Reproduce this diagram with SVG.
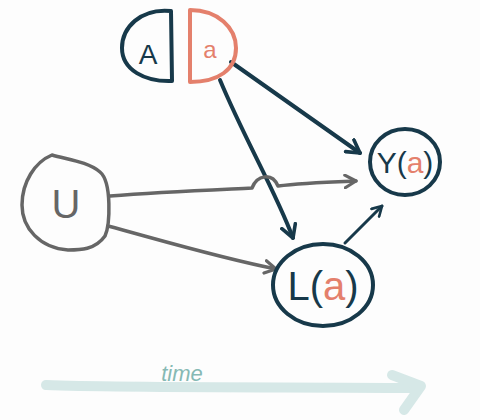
<svg xmlns="http://www.w3.org/2000/svg" width="480" height="420" viewBox="0 0 480 420">
<defs>
<style>
.dk{fill:none;stroke:#17394a;stroke-width:4;stroke-linecap:round;stroke-linejoin:round}
.dkt{fill:none;stroke:#17394a;stroke-width:3;stroke-linecap:round;stroke-linejoin:round}
.gy{fill:none;stroke:#666666;stroke-width:3.5;stroke-linecap:round;stroke-linejoin:round}
.sa{fill:none;stroke:#e4806c;stroke-width:4;stroke-linecap:round;stroke-linejoin:round}
.t{font-family:"Liberation Sans",sans-serif;text-anchor:middle}
.tk{fill:#17394a}
.ts{fill:#e4806c}
</style>
<marker id="ad" viewBox="0 0 10 10" refX="8" refY="5" markerWidth="4.5" markerHeight="4.5" orient="auto" markerUnits="strokeWidth">
<path d="M1,1 L8,5 L1,9" fill="none" stroke="#17394a" stroke-width="2" stroke-linecap="round" stroke-linejoin="round"/>
</marker>
<marker id="ag" viewBox="0 0 10 10" refX="8" refY="5" markerWidth="4.5" markerHeight="4.5" orient="auto" markerUnits="strokeWidth">
<path d="M1,1 L8,5 L1,9" fill="none" stroke="#666666" stroke-width="2" stroke-linecap="round" stroke-linejoin="round"/>
</marker>
</defs>
<rect width="480" height="420" fill="#fdfdfd"/>
<g id="time">
<path d="M46,385 C120,388 300,387 412,388" fill="none" stroke="#d6e8e7" stroke-width="10" stroke-linecap="round"/>
<path d="M392,375 L421,386 L404,410" fill="none" stroke="#d6e8e7" stroke-width="10" stroke-linecap="round" stroke-linejoin="round"/>
<text x="182" y="381" class="t" font-size="22" fill="#86b9b4" font-style="italic">time</text>
</g>
<g id="connectors">
<path class="dk" d="M231,62 L360,153" marker-end="url(#ad)"/>
<path class="dk" d="M220,80 C245,140 275,190 293,238" marker-end="url(#ad)"/>
<path class="dkt" d="M345,243 L382,206" marker-end="url(#ad)"/>
<path class="gy" d="M110,196 C160,192 210,190 252,188 C257,175 272,172 278,186 C300,183 330,182 356,181" marker-end="url(#ag)"/>
<path class="gy" d="M108,226 C160,240 220,258 276,269" marker-end="url(#ag)"/>
</g>
<g id="A">
<path class="dk" d="M171,11 C140,8 122,28 122,48 C122,70 145,82 172,81 Z"/>
<text x="148" y="64" class="t tk" font-size="28">A</text>
</g>
<g id="a">
<path class="sa" d="M190,10 C218,10 236,28 236,48 C236,70 218,82 190,82 Z"/>
<text x="210" y="58" class="t ts" font-size="24">a</text>
</g>
<g id="U">
<path class="gy" d="M52,155 C70,160 88,162 100,172 C112,182 110,225 105,236 C95,250 80,250 68,250 C40,248 22,228 22,205 C22,182 35,162 52,155 Z"/>
<text x="66" y="218" class="t" font-size="40" fill="#666666">U</text>
</g>
<g id="Y">
<ellipse cx="405" cy="162" rx="35" ry="33" class="dk"/>
<text x="405" y="173" class="t tk" font-size="30">Y(<tspan class="ts">a</tspan>)</text>
</g>
<g id="L">
<ellipse cx="323" cy="285" rx="50" ry="41" class="dk"/>
<text x="323" y="300" class="t tk" font-size="40">L(<tspan class="ts">a</tspan>)</text>
</g>
</svg>
